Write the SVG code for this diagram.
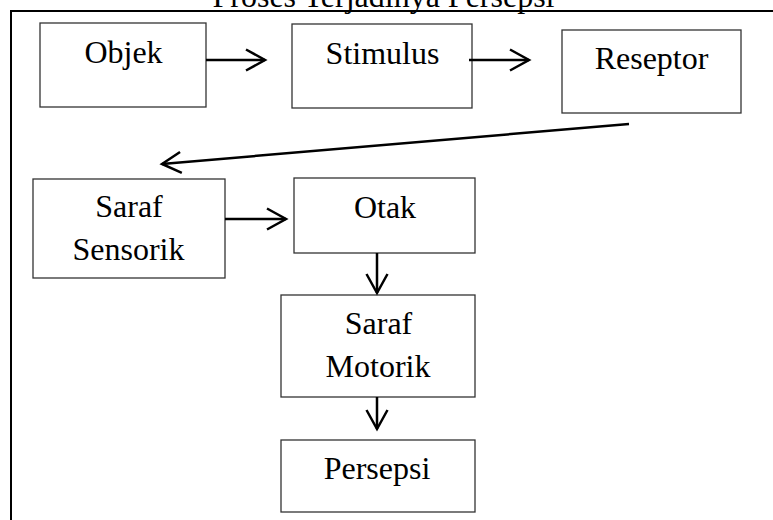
<svg xmlns="http://www.w3.org/2000/svg" width="773" height="520" viewBox="0 0 773 520">
  <style>
    .box { fill: #ffffff; stroke: #333333; stroke-width: 1.3; }
    .lbl { font-family: "Liberation Serif", "Times New Roman", serif; font-size: 32px; fill: #000000; text-anchor: middle; }
    .conn { fill: none; stroke: #000000; stroke-width: 2.5; }
  </style>
  <defs>
    <marker id="chev" markerUnits="userSpaceOnUse" markerWidth="24" markerHeight="26" viewBox="0 0 24 26" refX="21" refY="13" orient="auto">
      <path d="M2,2.5 L21,13 L2,23.5" fill="none" stroke="#000000" stroke-width="2.5"/>
    </marker>
  </defs>
  <rect width="773" height="520" fill="#ffffff"/>
  <g id="frame">
    <path d="M11,522 L11,11 L775,11" fill="none" stroke="#000000" stroke-width="2"/>
  </g>
  <text id="title" class="lbl" x="383.5" y="7">Proses Terjadinya Persepsi</text>

  <g id="objek">
    <rect class="box" x="40" y="23" width="166" height="84"/>
    <text class="lbl" x="123.5" y="63">Objek</text>
  </g>
  <g id="stimulus">
    <rect class="box" x="292" y="24" width="180" height="84"/>
    <text class="lbl" x="382.5" y="64">Stimulus</text>
  </g>
  <g id="reseptor">
    <rect class="box" x="562" y="30" width="179" height="83"/>
    <text class="lbl" x="651.5" y="69">Reseptor</text>
  </g>
  <g id="saraf-sensorik">
    <rect class="box" x="33" y="179" width="192" height="99"/>
    <text class="lbl" x="129" y="217">Saraf</text>
    <text class="lbl" x="128.5" y="260">Sensorik</text>
  </g>
  <g id="otak">
    <rect class="box" x="294" y="178" width="181" height="75"/>
    <text class="lbl" x="385" y="218">Otak</text>
  </g>
  <g id="saraf-motorik">
    <rect class="box" x="281" y="295" width="194" height="102"/>
    <text class="lbl" x="378.5" y="334">Saraf</text>
    <text class="lbl" x="378" y="377">Motorik</text>
  </g>
  <g id="persepsi">
    <rect class="box" x="281" y="440" width="194" height="72"/>
    <text class="lbl" x="377" y="479">Persepsi</text>
  </g>

  <g id="connectors">
    <path class="conn" d="M206,60 L265,60" marker-end="url(#chev)"/>
    <path class="conn" d="M469,60 L529,60" marker-end="url(#chev)"/>
    <path class="conn" d="M629,124 L162,164" marker-end="url(#chev)"/>
    <path class="conn" d="M225,219 L286,219" marker-end="url(#chev)"/>
    <path class="conn" d="M377,253 L377,293" marker-end="url(#chev)"/>
    <path class="conn" d="M377,397 L377,429" marker-end="url(#chev)"/>
  </g>
</svg>
